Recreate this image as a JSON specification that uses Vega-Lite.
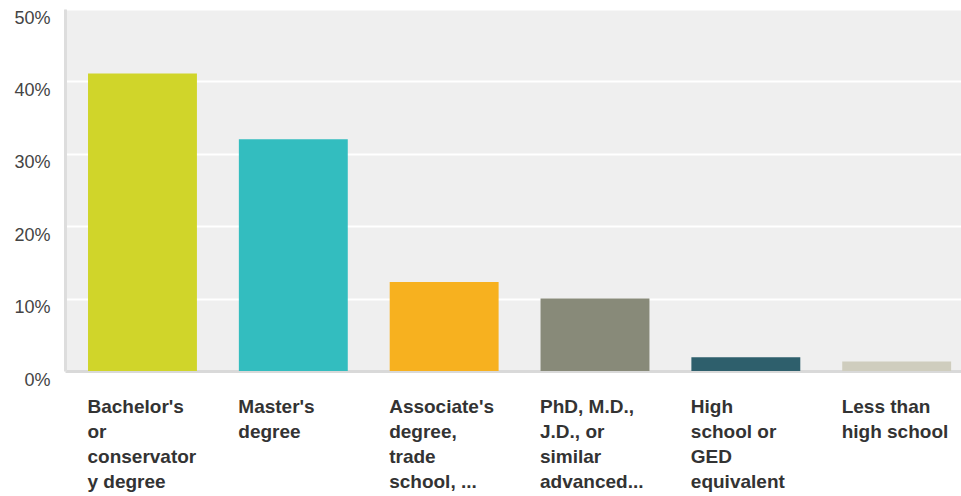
{
  "$schema": "https://vega.github.io/schema/vega-lite/v6.json",
  "autosize": {"type": "none"},
  "padding": {"left": 65, "top": 9, "right": 0, "bottom": 125},
  "width": 896,
  "height": 362,
  "background": "white",
  "config": {
    "view": {"fill": "#efefef", "stroke": null},
    "font": "Liberation Sans"
  },
  "data": {
    "values": [
      {"answer": "Bachelor's\nor\nconservator\ny degree", "pct": 0.411, "color": "#d0d52a"},
      {"answer": "Master's\ndegree", "pct": 0.32, "color": "#33bdbf"},
      {"answer": "Associate's\ndegree,\ntrade\nschool, ...", "pct": 0.123, "color": "#f7b11f"},
      {"answer": "PhD, M.D.,\nJ.D., or\nsimilar\nadvanced...", "pct": 0.1, "color": "#888a79"},
      {"answer": "High\nschool or\nGED\nequivalent", "pct": 0.019, "color": "#2e5f6c"},
      {"answer": "Less than\nhigh school", "pct": 0.013, "color": "#cfcdbe"}
    ]
  },
  "mark": {"type": "bar"},
  "encoding": {
    "x": {
      "field": "answer",
      "type": "nominal",
      "sort": null,
      "scale": {"paddingInner": 0.278, "paddingOuter": 0.109, "align": 0.7},
      "axis": {
        "title": null,
        "labelAngle": 0,
        "labelAlign": "left",
        "labelBaseline": "top",
        "labelOffset": -55,
        "labelPadding": 26,
        "labelFontSize": 19,
        "labelFontWeight": "bold",
        "labelColor": "#333333",
        "labelLineHeight": 25,
        "labelExpr": "split(datum.label, '\\n')",
        "ticks": false,
        "domainColor": "#d9d9d9",
        "domainWidth": 3,
        "labelLimit": 0
      }
    },
    "y": {
      "field": "pct",
      "type": "quantitative",
      "scale": {"domain": [0, 0.5]},
      "axis": {
        "title": null,
        "format": ".0%",
        "values": [0, 0.1, 0.2, 0.3, 0.4, 0.5],
        "ticks": false,
        "labelPadding": 15,
        "labelFontSize": 18,
        "labelColor": "#444444",
        "labelOffset": 9,
        "gridColor": "white",
        "gridWidth": 2,
        "domainColor": "#dddddd",
        "domainWidth": 3
      }
    },
    "color": {"field": "color", "type": "nominal", "scale": null, "legend": null}
  }
}
